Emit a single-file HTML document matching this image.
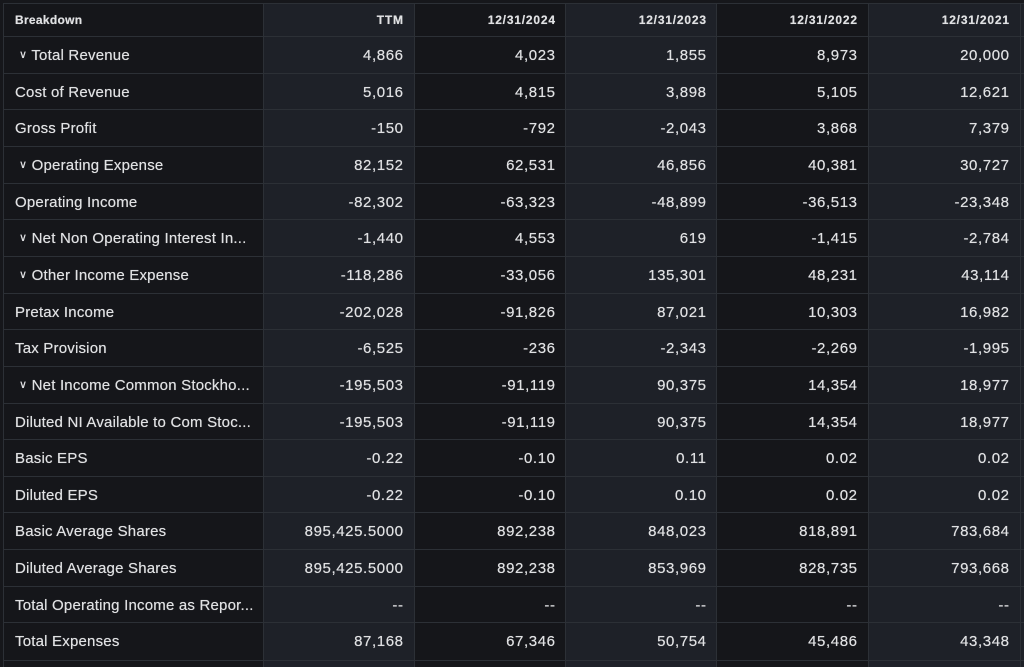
<!DOCTYPE html>
<html><head><meta charset="utf-8"><style>
*{margin:0;padding:0;box-sizing:border-box}
body{width:1024px;height:667px;background:#16171b;overflow:hidden;font-family:"Liberation Sans",Arial,sans-serif;color:#e0e1e3;position:relative}
.col{position:absolute;top:3px;height:664px}
.d{background:#15161a}.l{background:#1e2128}
.v{position:absolute;width:1px;top:3px;height:664px;background:#2c3036}
.h{position:absolute;left:3px;right:0;height:1px;background:#2c3036}
.r{position:absolute;left:0;width:1024px;height:36px;font-size:15px;line-height:39px}
.r span{position:absolute;white-space:nowrap;text-shadow:0 0 .5px #e0e1e3;letter-spacing:0.2px}
.r span.n{text-align:right;letter-spacing:0.6px;margin-right:-0.6px}
.r.hd{font-size:12px;font-weight:bold;line-height:34px;height:33px}
.r.hd span{letter-spacing:0.3px}
.r.hd span.n{letter-spacing:0.8px;margin-right:-0.8px}
</style></head><body>
<div class="col d" style="left:3px;width:260px"></div>
<div class="col l" style="left:263px;width:151px"></div>
<div class="col d" style="left:414px;width:151px"></div>
<div class="col l" style="left:565px;width:151px"></div>
<div class="col d" style="left:716px;width:152px"></div>
<div class="col l" style="left:868px;width:156px"></div>
<div class="v" style="left:3px"></div>
<div class="v" style="left:263px"></div>
<div class="v" style="left:414px"></div>
<div class="v" style="left:565px"></div>
<div class="v" style="left:716px"></div>
<div class="v" style="left:868px"></div>
<div class="v" style="left:1020px"></div>
<div id="t"></div>
<script>
const rows=[
["Breakdown","TTM","12/31/2024","12/31/2023","12/31/2022","12/31/2021"],
["⌄ Total Revenue","4,866","4,023","1,855","8,973","20,000"],
["Cost of Revenue","5,016","4,815","3,898","5,105","12,621"],
["Gross Profit","-150","-792","-2,043","3,868","7,379"],
["⌄ Operating Expense","82,152","62,531","46,856","40,381","30,727"],
["Operating Income","-82,302","-63,323","-48,899","-36,513","-23,348"],
["⌄ Net Non Operating Interest In...","-1,440","4,553","619","-1,415","-2,784"],
["⌄ Other Income Expense","-118,286","-33,056","135,301","48,231","43,114"],
["Pretax Income","-202,028","-91,826","87,021","10,303","16,982"],
["Tax Provision","-6,525","-236","-2,343","-2,269","-1,995"],
["⌄ Net Income Common Stockho...","-195,503","-91,119","90,375","14,354","18,977"],
["Diluted NI Available to Com Stoc...","-195,503","-91,119","90,375","14,354","18,977"],
["Basic EPS","-0.22","-0.10","0.11","0.02","0.02"],
["Diluted EPS","-0.22","-0.10","0.10","0.02","0.02"],
["Basic Average Shares","895,425.5000","892,238","848,023","818,891","783,684"],
["Diluted Average Shares","895,425.5000","892,238","853,969","828,735","793,668"],
["Total Operating Income as Repor...","--","--","--","--","--"],
["Total Expenses","87,168","67,346","50,754","45,486","43,348"]];
const rights=[403,555,706,857,1009];
let h='<div class="h" style="top:3px"></div>';
rows.forEach((r,i)=>{
 const top=i==0?3:36+(i-1)*36.65;
 h+=`<div class="r${i==0?' hd':''}" style="top:${top}px">`;
 let lab=r[0],left=15;
 if(lab.startsWith("⌄")){lab='<span style="font-size:11px;position:relative;top:-2px">∨</span> '+lab.slice(2);left=19;}
 h+=`<span style="left:${left}px">${lab}</span>`;
 for(let j=1;j<6;j++)h+=`<span class="n" style="right:${1024-rights[j-1]}px">${r[j]}</span>`;
 h+='</div>';
 if(i>0)h+=`<div class="h" style="top:${Math.round(top)}px"></div>`;
});
h+=`<div class="h" style="top:660px"></div>`;
document.getElementById('t').innerHTML=h;
</script>
</body></html>
